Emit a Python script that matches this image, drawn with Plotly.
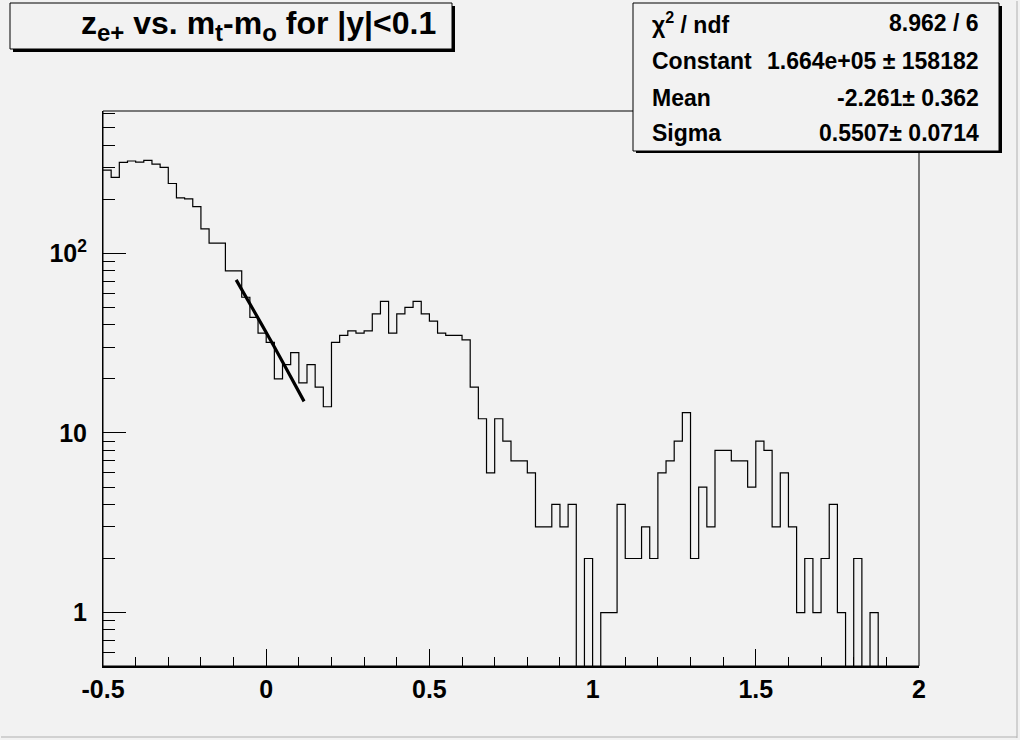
import plotly.graph_objects as go

# ---- data ----
x_min = -0.5
bin_width = 0.025
counts = [291, 265, 321, 327, 322, 330, 314, 301, 245, 204,
          201, 182, 137, 114, 114, 80, 80, 57, 44, 36,
          32, 20, 24, 28, 19, 24, 18, 14, 32, 35,
          37, 36, 37, 46, 54, 36, 46, 50, 54, 46,
          42, 36, 35, 35, 33, 18, 12, 6, 12, 9,
          7, 7, 6, 3, 3, 4, 3, 4, 0, 2,
          0, 1, 1, 4, 2, 2, 3, 2, 6, 7,
          9, 13, 2, 5, 3, 8, 8, 7, 7, 5,
          9, 8, 3, 6, 3, 1, 2, 1, 2, 4,
          1, 0, 2, 0, 1, 0, 0, 0, 0, 0]

fit_x = [-0.092, -0.04, 0.01, 0.06, 0.116]
fit_y = [71.2, 48.7, 33.7, 23.1, 15.0]

x_tickvals = [-0.5, 0, 0.5, 1, 1.5, 2]
x_ticktext = ["-0.5", "0", "0.5", "1", "1.5", "2"]
y_tickvals = [1, 10, 100]
y_ticktext = ["1", "10", "10<sup>2</sup>"]
y_minor = [0.6, 0.7, 0.8, 0.9, 2, 3, 4, 5, 6, 7, 8, 9,
           20, 30, 40, 50, 60, 70, 80, 90, 200, 300, 400, 500, 600]

title_html = ("z<sub><span style='font-size:24px'>e+</span></sub> vs. "
              "m<sub><span style='font-size:24px'>t</span></sub>-"
              "m<sub><span style='font-size:24px'>o</span></sub> for |y|&lt;0.1")
stat_labels = ["\u03c7<sup>2</sup> / ndf", "Constant", "Mean", "Sigma"]
stat_values = ["8.962 / 6", "1.664e+05 \u00b1 158182", "-2.261\u00b1 0.362", "0.5507\u00b1 0.0714"]

# ---- build histogram outline ----
edges = [x_min + bin_width * i for i in range(len(counts) + 1)]
floor = 1e-3
yplot = [c if c > 0 else floor for c in counts]
hx = edges
hy = yplot + [yplot[-1]]

W, H = 1020, 740
L, R, T, B = 103, 101, 111, 74
PW, PH = W - L - R, H - T - B
BG = "#f2f2f2"
FONT = "Liberation Sans, Arial, Helvetica, sans-serif"


def px(X):
    return (X - L) / PW


def py(Y):
    return (H - B - Y) / PH


fig = go.Figure()
fig.add_trace(go.Scatter(x=hx, y=hy, mode="lines", line=dict(shape="hv", color="black", width=1.2),
                         hoverinfo="skip", showlegend=False))
fig.add_trace(go.Scatter(x=fit_x, y=fit_y, mode="lines", line=dict(shape="spline", color="black", width=3.2),
                         hoverinfo="skip", showlegend=False))

shapes = []
shapes.append(dict(type="rect", xref="paper", yref="paper", x0=0, x1=1, y0=0, y1=1,
                   line=dict(color="black", width=1)))
shapes.append(dict(type="rect", xref="paper", yref="paper", x0=px(13), x1=px(455), y0=py(52), y1=py(6),
                   line=dict(width=0), fillcolor="black", layer="above"))
shapes.append(dict(type="rect", xref="paper", yref="paper", x0=px(10), x1=px(452), y0=py(49), y1=py(3),
                   line=dict(color="black", width=1), fillcolor=BG, layer="above"))
shapes.append(dict(type="rect", xref="paper", yref="paper", x0=px(636), x1=px(1002), y0=py(153), y1=py(6),
                   line=dict(width=0), fillcolor="black", layer="above"))
shapes.append(dict(type="rect", xref="paper", yref="paper", x0=px(633), x1=px(999), y0=py(151), y1=py(3),
                   line=dict(color="black", width=1), fillcolor=BG, layer="above"))
shapes.append(dict(type="line", xref="paper", yref="paper", x0=px(1017), x1=px(1017), y0=py(738), y1=py(1),
                   line=dict(color="#b0b0b0", width=1)))
shapes.append(dict(type="line", xref="paper", yref="paper", x0=px(1), x1=px(1017), y0=py(737), y1=py(737),
                   line=dict(color="#b0b0b0", width=1)))

annotations = []
annotations.append(dict(xref="paper", yref="paper", x=px(438), y=py(25), xanchor="right", yanchor="middle",
                        text=title_html, showarrow=False,
                        font=dict(family=FONT, size=32, color="black", weight="bold")))
row_y = [23, 61, 98, 133]
for lab, val, ry in zip(stat_labels, stat_values, row_y):
    annotations.append(dict(xref="paper", yref="paper", x=px(650), y=py(ry), xanchor="left", yanchor="middle",
                            text=lab, showarrow=False,
                            font=dict(family=FONT, size=23, color="black", weight="bold")))
    annotations.append(dict(xref="paper", yref="paper", x=px(981), y=py(ry), xanchor="right", yanchor="middle",
                            text=val, showarrow=False,
                            font=dict(family=FONT, size=23, color="black", weight="bold")))

fig.update_layout(
    width=W, height=H,
    margin=dict(l=L, r=R, t=T, b=B, pad=0),
    paper_bgcolor=BG, plot_bgcolor=BG,
    shapes=shapes, annotations=annotations,
    xaxis=dict(range=[-0.5, 2], tickmode="array", tickvals=x_tickvals, ticktext=x_ticktext,
               ticks="inside", ticklen=17, tickwidth=1, tickcolor="black",
               showline=True, linecolor="black", linewidth=2, mirror=False,
               showgrid=False, zeroline=False,
               tickfont=dict(family=FONT, size=25, color="black", weight="bold"),
               minor=dict(dtick=0.1, tick0=0, ticks="inside", ticklen=9, tickcolor="black", showgrid=False)),
    yaxis=dict(type="log", range=[-0.2975, 2.793], tickmode="array", tickvals=y_tickvals, ticktext=y_ticktext,
               ticks="inside", ticklen=23, tickwidth=1, tickcolor="black",
               showline=True, linecolor="black", linewidth=1, mirror=False,
               showgrid=False, zeroline=False,
               tickfont=dict(family=FONT, size=25, color="black", weight="bold"),
               ticklabelstandoff=10,
               minor=dict(tickmode="array", tickvals=y_minor, ticks="inside", ticklen=12,
                          tickcolor="black", showgrid=False)),
)

fig.write_html("out.html", config={"displayModeBar": False},
               post_script="document.body.style.margin='0';document.body.style.background='#f2f2f2';")
